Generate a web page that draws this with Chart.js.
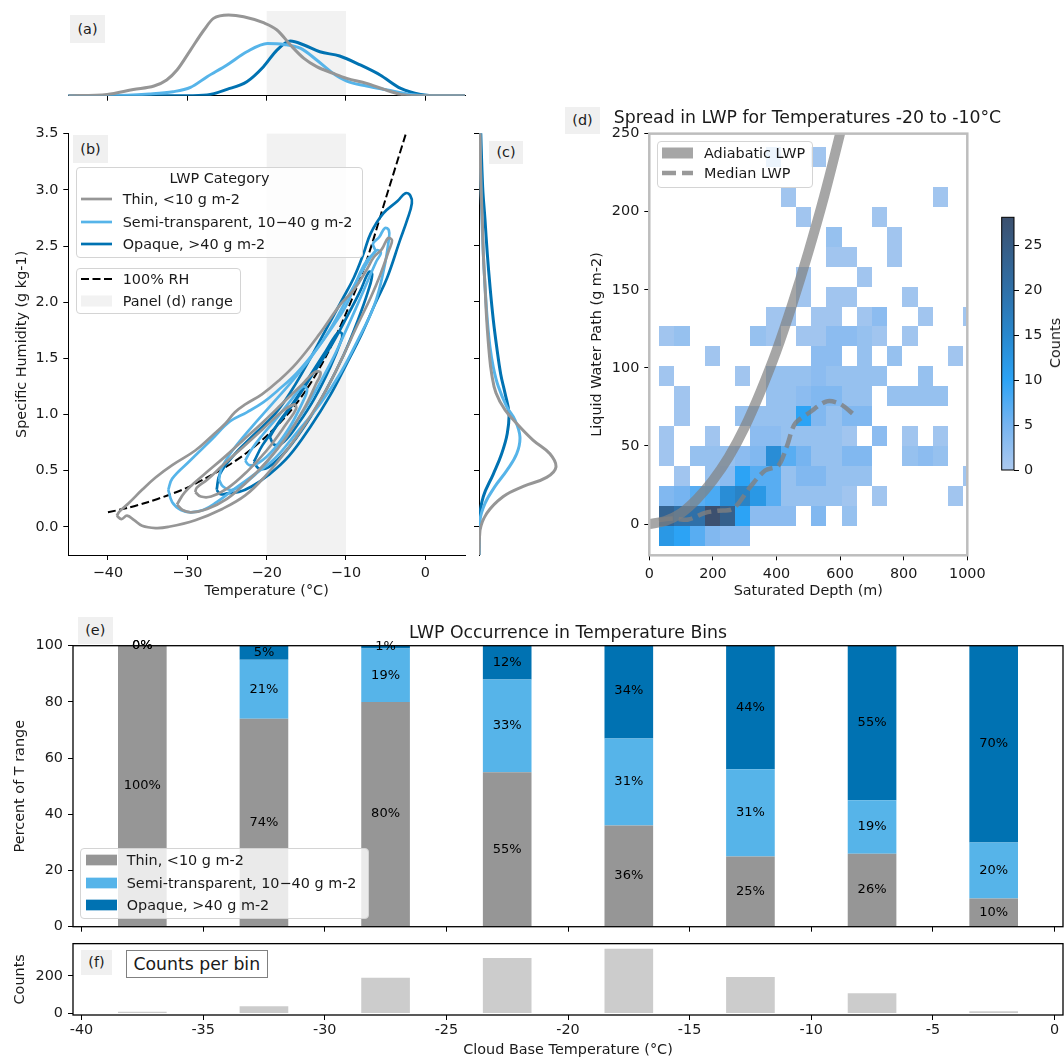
<!DOCTYPE html>
<html>
<head>
<meta charset="utf-8">
<title>LWP by cloud base temperature</title>
<script src="https://cdn.jsdelivr.net/npm/chart.js@4.4.1/dist/chart.umd.min.js"></script>
<style>
  body { margin: 0; background: #fff; font-family: "DejaVu Sans", sans-serif; color: #1a1a1a; }
  #page { position: relative; width: 1064px; height: 1059px; overflow: hidden; }
  canvas { position: absolute; }
  .tag { position: absolute; background: #f0f0f0; font-size: 14.4px; text-align: center; }
  .title { position: absolute; font-size: 17.3px; white-space: nowrap; transform: translate(-50%, -50%); }
  .caxis { position: absolute; font-size: 14.4px; white-space: nowrap; transform: translate(-50%, -50%) rotate(-90deg); }
  .boxed { position: absolute; box-sizing: border-box; border: 1px solid #808080; background: #fff;
           font-size: 17.3px; line-height: 26px; text-align: center; white-space: nowrap; }
  .legend { position: absolute; box-sizing: border-box; background: rgba(255,255,255,0.8);
            border: 1px solid #d4d4d4; border-radius: 4px; font-size: 14.4px; }
  .legend .row { position: absolute; left: 0; right: 0; height: 20px; line-height: 20px; white-space: nowrap; }
  .legend svg, .legend span { position: absolute; top: 0; }
</style>
</head>
<body>
<div id="page">
  <canvas id="tempKde" width="475" height="110" style="left:0;top:0"></canvas>
  <canvas id="contours" width="475" height="490" style="left:0;top:120px"></canvas>
  <canvas id="humKde" width="100" height="440" style="left:470px;top:120px"></canvas>
  <canvas id="lwpHist" width="440" height="490" style="left:560px;top:120px"></canvas>
  <canvas id="colorbar" width="74" height="290" style="left:990px;top:200px"></canvas>
  <canvas id="occurrence" width="1064" height="330" style="left:0;top:615px"></canvas>
  <canvas id="binCounts" width="1064" height="129" style="left:0;top:930px"></canvas>
  <div class="title" style="left:807.5px;top:116.7px">Spread in LWP for Temperatures -20 to -10°C</div>
  <div class="title" style="left:568px;top:631.5px">LWP Occurrence in Temperature Bins</div>
  <div class="caxis" style="left:1055px;top:343px">Counts</div>
  <div class="boxed" style="left:125.5px;top:950px;width:142.5px;height:28.3px">Counts per bin</div>
</div>
<script>
const categories = ['Thin, <10 g m-2', 'Semi-transparent, 10\u221240 g m-2', 'Opaque, >40 g m-2'];
const colThin = '#969696', colSemi = '#56b4e9', colOpaque = '#0072b2';
const bandRange = [-20, -10];

// (a) temperature densities
const tempThin = [-45, -40.1, -36.8, -34.2, -32.6, -31.3, -29.6, -27.9, -26.7, -24.8, -22.9, -20.4, -18.7, -17.0, -15.3, -13.7, -11.6, -9.9, -7.4, -5.2, -3.1, -1.0, 5];
const densThin = [0, 0.0011, 0.0052, 0.0080, 0.0130, 0.0212, 0.0377, 0.0543, 0.0639, 0.0667, 0.0653, 0.0603, 0.0543, 0.0419, 0.0308, 0.0240, 0.0184, 0.0143, 0.0102, 0.0052, 0.0011, 0, 0];
const tempSemi = [-45, -39.8, -34.8, -31.8, -29.6, -27.5, -25.0, -22.5, -19.9, -17.8, -15.7, -13.7, -11.6, -9.9, -7.4, -4.8, -1.9, 1.1, 5];
const densSemi = [0, 0, 0.0014, 0.0033, 0.0069, 0.0157, 0.0254, 0.0363, 0.0432, 0.0424, 0.0391, 0.0295, 0.0184, 0.0121, 0.0080, 0.0047, 0.0011, 0, 0];
const tempOpaque = [-45, -30.1, -27.5, -25.0, -22.5, -20.4, -18.7, -17.0, -15.3, -13.3, -10.8, -8.2, -5.7, -3.1, -0.6, 1.9, 5];
const densOpaque = [0, 0, 0.0006, 0.0052, 0.0116, 0.0240, 0.0377, 0.0452, 0.0419, 0.0363, 0.0328, 0.0254, 0.0171, 0.0060, 0.0011, 0, 0];

// (c) specific humidity densities
const humThin = [-0.25, -0.03, 0.12, 0.27, 0.36, 0.44, 0.53, 0.65, 0.77, 0.92, 1.04, 1.19, 1.36, 1.54, 1.84, 2.14, 2.43, 2.73, 3.02, 3.32, 3.6];
const densHumThin = [0, 0.014, 0.109, 0.343, 0.625, 0.955, 1.086, 1.001, 0.766, 0.532, 0.367, 0.240, 0.179, 0.145, 0.109, 0.085, 0.061, 0.047, 0.028, 0.018, 0.012];
const humSemi = [-0.25, 0.06, 0.21, 0.36, 0.50, 0.65, 0.80, 0.95, 1.07, 1.25, 1.42, 1.60, 1.84, 2.14, 2.43, 2.73, 3.02, 3.6];
const densHumSemi = [0, 0.014, 0.085, 0.226, 0.391, 0.532, 0.578, 0.508, 0.391, 0.272, 0.202, 0.155, 0.117, 0.085, 0.061, 0.042, 0.028, 0.012];
const humOpaque = [-0.25, 0.06, 0.27, 0.47, 0.65, 0.83, 1.01, 1.19, 1.36, 1.60, 1.84, 2.14, 2.43, 2.73, 3.02, 3.6];
const densHumOpaque = [0, 0.004, 0.061, 0.202, 0.320, 0.399, 0.423, 0.367, 0.306, 0.250, 0.202, 0.155, 0.117, 0.085, 0.052, 0.020];

// (b) density contours, [temperature, humidity] around each loop
const thinOuter = [[-38.9,0.10],[-38.3,0.07],[-37.6,0.10],[-36.7,0.06],[-35.7,0.01],[-34.0,-0.01],[-32.4,0.00],[-29.0,0.06],[-25.6,0.16],[-22.7,0.28],[-20.2,0.45],[-17.5,0.68],[-15.0,0.93],[-12.5,1.22],[-10.5,1.50],[-8.6,1.79],[-6.9,2.04],[-5.7,2.24],[-4.6,2.46],[-4.2,2.55],[-4.7,2.57],[-5.5,2.47],[-6.5,2.40],[-7.3,2.30],[-9.0,2.11],[-10.7,1.98],[-13.3,1.72],[-16.2,1.46],[-18.5,1.30],[-20.6,1.18],[-22.7,1.09],[-24.0,1.02],[-25.2,0.92],[-26.9,0.81],[-29.0,0.68],[-31.9,0.55],[-34.0,0.44],[-35.7,0.33],[-37.4,0.21],[-38.5,0.14],[-38.9,0.10]];
const thinMid = [[-31.3,0.20],[-30.6,0.15],[-29.5,0.13],[-27.5,0.16],[-25.0,0.25],[-22.5,0.40],[-20.0,0.58],[-17.5,0.80],[-15.3,1.05],[-13.8,1.27],[-13.2,1.37],[-13.9,1.38],[-15.5,1.27],[-18.0,1.10],[-20.5,0.93],[-23.0,0.77],[-25.5,0.61],[-28.0,0.46],[-30.3,0.31],[-31.3,0.20]];
const thinInner = [[-29.0,0.31],[-28.3,0.27],[-27.0,0.27],[-25.0,0.34],[-22.5,0.49],[-20.0,0.68],[-17.5,0.92],[-16.3,1.05],[-16.5,1.09],[-18.0,1.03],[-20.5,0.87],[-23.0,0.71],[-25.5,0.55],[-27.5,0.42],[-28.8,0.35],[-29.0,0.31]];
const semiOuter = [[-32.4,0.33],[-31.9,0.22],[-30.8,0.15],[-29.6,0.13],[-28.0,0.15],[-26.3,0.22],[-24.6,0.31],[-22.1,0.44],[-19.1,0.60],[-16.2,0.84],[-13.2,1.10],[-10.7,1.37],[-8.6,1.65],[-6.4,1.98],[-5.2,2.30],[-4.6,2.56],[-4.6,2.64],[-5.1,2.66],[-5.8,2.58],[-6.6,2.52],[-6.3,2.45],[-7.3,2.38],[-8.3,2.25],[-9.9,1.98],[-11.6,1.79],[-13.5,1.60],[-16.2,1.37],[-18.5,1.22],[-20.4,1.11],[-22.5,1.02],[-24.6,0.94],[-26.9,0.78],[-29.8,0.58],[-31.9,0.43],[-32.4,0.33]];
const semiMid = [[-26.0,0.42],[-25.5,0.36],[-24.3,0.33],[-22.0,0.43],[-19.5,0.62],[-17.0,0.86],[-14.5,1.13],[-12.0,1.45],[-9.8,1.78],[-7.8,2.10],[-6.2,2.36],[-5.6,2.44],[-6.2,2.46],[-7.5,2.33],[-9.5,2.08],[-12.0,1.76],[-14.5,1.50],[-17.0,1.28],[-19.5,1.08],[-22.0,0.88],[-24.3,0.68],[-25.7,0.52],[-26.0,0.42]];
const semiInner = [[-22.7,0.59],[-22.2,0.55],[-21.0,0.57],[-19.0,0.70],[-17.0,0.90],[-15.4,1.12],[-14.9,1.22],[-15.4,1.25],[-16.8,1.14],[-18.6,0.98],[-20.5,0.82],[-22.0,0.68],[-22.7,0.59]];
const opaqueOuter = [[-26.3,0.33],[-25.8,0.29],[-24.8,0.30],[-23.5,0.31],[-21.9,0.36],[-19.8,0.46],[-17.2,0.63],[-14.5,0.89],[-12.0,1.17],[-10.0,1.44],[-8.0,1.72],[-6.3,1.99],[-4.8,2.22],[-3.2,2.55],[-2.3,2.73],[-1.7,2.88],[-1.9,2.95],[-2.5,2.97],[-3.5,2.90],[-5.3,2.79],[-6.9,2.61],[-7.8,2.43],[-9.0,2.22],[-10.5,2.02],[-12.5,1.76],[-14.5,1.50],[-16.8,1.22],[-18.9,1.01],[-21.9,0.80],[-24.0,0.65],[-25.9,0.47],[-26.3,0.33]];
const opaqueMid = [[-21.6,0.58],[-21.0,0.52],[-19.8,0.53],[-17.5,0.68],[-15.0,0.92],[-12.5,1.22],[-10.3,1.53],[-8.5,1.84],[-7.2,2.10],[-6.7,2.25],[-7.1,2.27],[-8.2,2.10],[-9.8,1.88],[-11.8,1.62],[-14.0,1.38],[-16.3,1.13],[-18.5,0.92],[-20.5,0.73],[-21.6,0.58]];
const opaqueInner = [[-19.6,0.80],[-19.0,0.73],[-17.8,0.76],[-16.0,0.92],[-14.0,1.14],[-12.0,1.42],[-10.6,1.66],[-10.5,1.72],[-11.0,1.73],[-12.5,1.57],[-14.5,1.35],[-16.5,1.12],[-18.5,0.93],[-19.6,0.80]];

// saturation curve (100% RH)
const rhTemp = [-40, -37.5, -35, -32.5, -30, -27.5, -25, -22.5, -20, -17.5, -15, -12.5, -10, -7.5, -5, -2.45];
const rhHum = [0.13, 0.17, 0.22, 0.28, 0.35, 0.44, 0.54, 0.66, 0.81, 0.99, 1.22, 1.52, 1.90, 2.35, 2.92, 3.50];

// (d) 2D histogram of LWP vs saturated depth, rows from lowest LWP bin up
const depthEdges = [31, 79, 127, 174, 222, 270, 318, 366, 413, 461, 509, 557, 605, 652, 700, 748, 796, 844, 891, 939, 987, 1035];
const lwpEdges = [-13.9, -1.1, 11.6, 24.4, 37.2, 50.0, 62.7, 75.5, 88.3, 101.0, 113.8, 126.6, 139.3, 152.1, 164.9, 177.6, 190.4, 203.2, 215.9, 228.7, 241.5];
const lwpCounts = [
  [12,10, 7, 4, 3, 3, 0, 0, 0, 0, 0, 0, 0, 0, 0, 0, 0, 0, 0, 0, 0],
  [23,20,20,28,24,10, 3, 3, 3, 0, 4, 0, 2, 0, 0, 0, 0, 0, 0, 0, 0],
  [ 4, 5, 7, 8,14,16,12, 7, 2, 2, 2, 2, 1, 0, 1, 0, 0, 0, 0, 1, 0],
  [ 0, 1, 0, 2, 3,10, 7, 7, 2, 4, 4, 2, 2, 2, 0, 0, 0, 0, 0, 0, 1],
  [ 1, 0, 2, 2, 2, 3, 4,14, 7, 5, 2, 2, 4, 4, 0, 0, 2, 3, 2, 0, 0],
  [ 1, 0, 0, 1, 0, 0, 3, 3, 2, 2, 2, 2, 1, 0, 3, 0, 1, 0, 1, 0, 0],
  [ 0, 1, 0, 0, 0, 2, 2, 2, 2,10, 4, 2, 4, 4, 0, 0, 0, 0, 0, 0, 0],
  [ 0, 1, 0, 0, 0, 0, 0, 2, 2, 3, 4, 4, 2, 2, 0, 2, 2, 2, 2, 0, 0],
  [ 1, 0, 0, 0, 0, 1, 0, 2, 2, 2, 3, 2, 2, 2, 2, 0, 0, 2, 0, 0, 0],
  [ 0, 0, 0, 1, 0, 0, 0, 0, 0, 0, 3, 3, 0, 2, 0, 2, 0, 0, 0, 1, 0],
  [ 1, 2, 0, 0, 0, 0, 2, 1, 0, 1, 1, 3, 3, 2, 1, 0, 1, 0, 0, 0, 0],
  [ 0, 0, 0, 0, 0, 0, 0, 1, 1, 0, 1, 1, 0, 1, 3, 0, 0, 1, 0, 0, 1],
  [ 0, 0, 0, 0, 0, 0, 0, 0, 0, 1, 0, 1, 1, 0, 0, 0, 1, 0, 0, 0, 0],
  [ 0, 0, 0, 0, 0, 0, 0, 0, 0, 1, 0, 0, 0, 1, 0, 0, 0, 0, 0, 0, 0],
  [ 0, 0, 0, 0, 0, 0, 0, 0, 0, 0, 0, 1, 1, 0, 0, 1, 0, 0, 0, 0, 0],
  [ 0, 0, 0, 0, 0, 0, 0, 0, 0, 0, 0, 2, 0, 0, 0, 1, 0, 0, 0, 0, 0],
  [ 0, 0, 0, 0, 0, 0, 0, 0, 0, 1, 0, 0, 0, 0, 1, 0, 0, 0, 0, 0, 0],
  [ 0, 0, 0, 0, 0, 0, 0, 0, 1, 0, 0, 0, 0, 0, 0, 0, 0, 0, 1, 0, 0],
  [ 0, 0, 0, 0, 0, 0, 0, 0, 0, 0, 0, 0, 0, 0, 0, 0, 0, 0, 0, 0, 0],
  [ 0, 0, 0, 0, 0, 0, 0, 1, 0, 0, 1, 0, 0, 0, 0, 0, 0, 0, 0, 0, 0]
];
const countMax = 28.1;
const adiabDepth = [0, 50, 100, 150, 200, 250, 300, 350, 400, 450, 500, 550, 600, 630];
const adiabLwp = [0, 2, 7, 16, 28, 43, 62, 85, 111, 141, 174, 210, 250, 276];
const medDepth = [30, 75, 123, 175, 215, 264, 317, 364, 406, 432, 458, 505, 558, 600, 647];
const medLwp = [2.5, 3.5, 2.9, 7.2, 8.5, 9.9, 23.7, 34.3, 37.5, 49.5, 64.2, 71.6, 78.6, 76.9, 69.4];

// (e, f) temperature bins
const binCentres = [-37.5, -32.5, -27.5, -22.5, -17.5, -12.5, -7.5, -2.5];
const pctThin = [100, 74, 80, 55, 36, 25, 26, 10];
const pctSemi = [0, 21, 19, 33, 31, 31, 19, 20];
const pctOpaque = [0, 5, 1, 12, 34, 44, 55, 70];
const binCounts = [9, 38, 190, 295, 345, 195, 108, 12];

// colour ramp for the histogram and colorbar
const cmapStops = [
  [0, [172, 201, 239]], [5, [118, 180, 240]], [10, [44, 163, 245]],
  [15, [40, 136, 206]], [20, [47, 112, 168]], [28.1, [60, 80, 110]]
];
function countColor(n) {
  for (let i = 1; i < cmapStops.length; i++) {
    const [v0, c0] = cmapStops[i - 1], [v1, c1] = cmapStops[i];
    if (n <= v1 || i === cmapStops.length - 1) {
      const t = Math.max(0, Math.min(1, (n - v0) / (v1 - v0)));
      return 'rgb(' + c0.map((c, k) => Math.round(c + (c1[k] - c) * t)).join(',') + ')';
    }
  }
}

Chart.defaults.font.family = '"DejaVu Sans", sans-serif';
Chart.defaults.font.size = 14.4;
Chart.defaults.color = '#1a1a1a';
Chart.defaults.animation = false;
Chart.defaults.responsive = false;
Chart.defaults.events = [];
Chart.defaults.plugins.legend.display = false;
Chart.defaults.plugins.tooltip.enabled = false;
Chart.defaults.elements.point.radius = 0;

const toXY = (xs, ys) => xs.map((x, i) => ({ x, y: ys[i] }));
const loopXY = loop => loop.map(([x, y]) => ({ x, y }));
const minusFmt = v => (v < 0 ? '\u2212' + Math.abs(v) : String(v));

function axis(min, max, ticks, size, o = {}) {
  const a = {
    type: 'linear', min, max, offset: false,
    afterBuildTicks: s => { s.ticks = ticks.map(value => ({ value })); },
    afterFit: s => { if (o.horizontal) s.height = size; else s.width = size; },
    grid: { drawOnChartArea: false, drawTicks: true, tickLength: 5, tickColor: '#000', lineWidth: 1, offset: false },
    border: { display: o.border !== false, color: '#000', width: 1 },
    ticks: { display: o.labels !== false, padding: o.pad ?? 5, maxRotation: 0, autoSkip: false, callback: o.fmt || (v => String(v)) },
    title: o.title ? { display: true, text: o.title, padding: o.titlePad } : { display: false }
  };
  if (o.position) a.position = o.position;
  if (o.stacked) a.stacked = true;
  return a;
}

const bandPlugin = {
  id: 'band',
  beforeDraw(chart) {
    const { ctx, chartArea: a, scales: { x } } = chart;
    const x0 = x.getPixelForValue(bandRange[0]), x1 = x.getPixelForValue(bandRange[1]);
    ctx.save();
    ctx.fillStyle = '#f2f2f2';
    ctx.fillRect(x0, a.top, x1 - x0, a.bottom - a.top);
    ctx.restore();
  }
};

const framePlugin = {
  id: 'frame',
  afterDatasetsDraw(chart, args, opts) {
    const { ctx, chartArea: a } = chart;
    ctx.save();
    ctx.strokeStyle = opts.color;
    ctx.lineWidth = opts.width;
    ctx.strokeRect(a.left, a.top, a.right - a.left, a.bottom - a.top);
    ctx.restore();
  }
};

const cellsPlugin = {
  id: 'cells',
  beforeDatasetsDraw(chart) {
    const { ctx, chartArea: a, scales: { x, y } } = chart;
    ctx.save();
    ctx.beginPath();
    ctx.rect(a.left, a.top, a.right - a.left, a.bottom - a.top);
    ctx.clip();
    lwpCounts.forEach((row, r) => row.forEach((n, c) => {
      if (!n) return;
      const x0 = Math.round(x.getPixelForValue(depthEdges[c]));
      const x1 = Math.round(x.getPixelForValue(depthEdges[c + 1]));
      const y0 = Math.round(y.getPixelForValue(lwpEdges[r + 1]));
      const y1 = Math.round(y.getPixelForValue(lwpEdges[r]));
      ctx.fillStyle = countColor(n);
      ctx.fillRect(x0, y0, x1 - x0, y1 - y0);
    }));
    ctx.restore();
  }
};

const rampPlugin = {
  id: 'ramp',
  beforeDatasetsDraw(chart) {
    const { ctx, chartArea: a, scales: { y } } = chart;
    const g = ctx.createLinearGradient(0, y.getPixelForValue(0), 0, y.getPixelForValue(countMax));
    cmapStops.forEach(([v]) => g.addColorStop(v / countMax, countColor(v)));
    ctx.save();
    ctx.fillStyle = g;
    ctx.fillRect(a.left, a.top, a.right - a.left, a.bottom - a.top);
    ctx.strokeStyle = '#000';
    ctx.lineWidth = 1;
    ctx.strokeRect(a.left, a.top, a.right - a.left, a.bottom - a.top);
    ctx.restore();
  }
};

const barLabelPlugin = {
  id: 'barLabels',
  afterDatasetsDraw(chart) {
    const ctx = chart.ctx;
    ctx.save();
    ctx.font = '13px "DejaVu Sans", sans-serif';
    ctx.fillStyle = '#000';
    ctx.textAlign = 'center';
    ctx.textBaseline = 'middle';
    chart.data.datasets.forEach((ds, i) => {
      chart.getDatasetMeta(i).data.forEach((bar, j) => {
        ctx.fillText(ds.data[j].y + '%', bar.x, (bar.y + bar.base) / 2);
      });
    });
    ctx.restore();
  }
};

const kdeLine = (data, color, mode) => ({
  data, showLine: true, borderColor: color, borderWidth: 3,
  cubicInterpolationMode: mode || 'default', tension: 0.4
});
const contour = (loop, color) => ({
  data: loopXY(loop), showLine: true, borderColor: color, borderWidth: 2.7, tension: 0.4
});

// (a) temperature distribution per category
new Chart(document.getElementById('tempKde'), {
  type: 'scatter',
  data: { datasets: [
    kdeLine(toXY(tempThin, densThin), colThin, 'monotone'),
    kdeLine(toXY(tempSemi, densSemi), colSemi, 'monotone'),
    kdeLine(toXY(tempOpaque, densOpaque), colOpaque, 'monotone')
  ] },
  options: {
    layout: { padding: { left: 68.3, right: 10, top: 11, bottom: 0 } },
    scales: {
      x: axis(-45, 5, [-40, -30, -20, -10, 0], 14.3, { horizontal: true, labels: false }),
      y: { display: false, min: 0, max: 0.07 }
    }
  },
  plugins: [bandPlugin]
});

// (b) humidity vs temperature contours
new Chart(document.getElementById('contours'), {
  type: 'scatter',
  data: { datasets: [
    contour(thinOuter, colThin), contour(thinMid, colThin), contour(thinInner, colThin),
    contour(semiOuter, colSemi), contour(semiMid, colSemi), contour(semiInner, colSemi),
    contour(opaqueOuter, colOpaque), contour(opaqueMid, colOpaque), contour(opaqueInner, colOpaque),
    { data: toXY(rhTemp, rhHum), showLine: true, borderColor: '#000', borderWidth: 2, borderDash: [8, 3.5], tension: 0.3 }
  ] },
  options: {
    layout: { padding: { left: 0, right: 10, top: 13.3, bottom: 0 } },
    scales: {
      x: axis(-45, 5, [-40, -30, -20, -10, 0], 55, { horizontal: true, fmt: minusFmt,
        title: 'Temperature (°C)', titlePad: { top: 0, bottom: 10.4 } }),
      y: axis(-0.25, 3.5, [0, 0.5, 1, 1.5, 2, 2.5, 3, 3.5], 68.3, { fmt: v => v.toFixed(1),
        title: 'Specific Humidity (g kg-1)', titlePad: { top: 13.4, bottom: 0 } })
    }
  },
  plugins: [bandPlugin]
});

// (c) humidity distribution per category
new Chart(document.getElementById('humKde'), {
  type: 'scatter',
  data: { datasets: [
    kdeLine(toXY(densHumThin, humThin), colThin),
    kdeLine(toXY(densHumSemi, humSemi), colSemi),
    kdeLine(toXY(densHumOpaque, humOpaque), colOpaque)
  ] },
  options: {
    layout: { padding: { left: 0, right: 6, top: 13.3, bottom: 5 } },
    scales: {
      x: { display: false, min: 0, max: 1.2 },
      y: axis(-0.25, 3.5, [0, 0.5, 1, 1.5, 2, 2.5, 3, 3.5], 9, { labels: false })
    }
  }
});

// (d) LWP spread for -20 to -10 C
new Chart(document.getElementById('lwpHist'), {
  type: 'scatter',
  data: { datasets: [
    { data: toXY(adiabDepth, adiabLwp), showLine: true, borderColor: 'rgba(128,128,128,0.7)', borderWidth: 10, tension: 0.3 },
    { data: toXY(medDepth, medLwp), showLine: true, borderColor: 'rgba(128,128,128,0.8)', borderWidth: 4.5, borderDash: [14, 6], tension: 0.3 }
  ] },
  options: {
    layout: { padding: { left: 0, right: 32.7, top: 13.3, bottom: 0 } },
    scales: {
      x: axis(0, 1000, [0, 200, 400, 600, 800, 1000], 54.7, { horizontal: true, border: false,
        title: 'Saturated Depth (m)', titlePad: { top: 0, bottom: 10.4 } }),
      y: axis(-20, 250, [0, 50, 100, 150, 200, 250], 89.3, { border: false,
        title: 'Liquid Water Path (g m-2)', titlePad: { top: 28.4, bottom: 0 } })
    },
    plugins: { frame: { color: '#bdbdbd', width: 2.5 } }
  },
  plugins: [cellsPlugin, framePlugin]
});

// colorbar for (d)
new Chart(document.getElementById('colorbar'), {
  type: 'scatter',
  data: { datasets: [] },
  options: {
    layout: { padding: { left: 11.7, right: 0, top: 17.3, bottom: 20 } },
    scales: {
      x: { display: false, min: 0, max: 1 },
      y: axis(0, countMax, [0, 5, 10, 15, 20, 25], 50, { position: 'right', border: false })
    }
  },
  plugins: [rampPlugin]
});

// (e) occurrence of each category per temperature bin
new Chart(document.getElementById('occurrence'), {
  type: 'bar',
  data: { datasets: [
    { label: categories[0], data: toXY(binCentres, pctThin), backgroundColor: colThin },
    { label: categories[1], data: toXY(binCentres, pctSemi), backgroundColor: colSemi },
    { label: categories[2], data: toXY(binCentres, pctOpaque), backgroundColor: colOpaque }
  ] },
  options: {
    layout: { padding: { left: 0, right: 1, top: 30.7, bottom: 0 } },
    datasets: { bar: { barPercentage: 0.4, categoryPercentage: 1 } },
    scales: {
      x: axis(-40.35, 0.35, [-40, -35, -30, -25, -20, -15, -10, -5, 0], 18.3, { horizontal: true, labels: false, border: false, stacked: true }),
      y: axis(0, 100, [0, 20, 40, 60, 80, 100], 73, { border: false, stacked: true,
        title: 'Percent of T range', titlePad: { top: 11.5, bottom: 0 } })
    },
    plugins: { frame: { color: '#000', width: 1.3 } }
  },
  plugins: [framePlugin, barLabelPlugin]
});

// (f) number of profiles per bin
new Chart(document.getElementById('binCounts'), {
  type: 'bar',
  data: { datasets: [ { data: toXY(binCentres, binCounts), backgroundColor: '#cccccc' } ] },
  options: {
    layout: { padding: { left: 0, right: 1, top: 13.3, bottom: 0 } },
    datasets: { bar: { barPercentage: 0.4, categoryPercentage: 1 } },
    scales: {
      x: axis(-40.35, 0.35, [-40, -35, -30, -25, -20, -15, -10, -5, 0], 44, { horizontal: true, border: false, pad: 2,
        title: 'Cloud Base Temperature (°C)', titlePad: { top: 0, bottom: 0.4 } }),
      y: axis(-8, 372, [0, 200], 73, { border: false,
        title: 'Counts', titlePad: { top: 11.4, bottom: 0 } })
    },
    plugins: { frame: { color: '#000', width: 1.3 } }
  },
  plugins: [framePlugin]
});

// panel tags
const page = document.getElementById('page');
[['(a)', 70, 15, 35, 28], ['(b)', 73, 135, 35, 28], ['(c)', 489, 141, 34, 23],
 ['(d)', 565, 107, 35, 27], ['(e)', 77.5, 617, 35.5, 27], ['(f)', 81, 950, 31, 25]].forEach(([t, l, tp, w, h]) => {
  const d = document.createElement('div');
  d.className = 'tag';
  d.textContent = t;
  Object.assign(d.style, { left: l + 'px', top: tp + 'px', width: w + 'px', height: h + 'px', lineHeight: h + 'px' });
  page.appendChild(d);
});

// legends
function sampleSvg(it, x) {
  const ns = 'http://www.w3.org/2000/svg';
  const svg = document.createElementNS(ns, 'svg');
  svg.setAttribute('width', 31); svg.setAttribute('height', 20);
  svg.style.left = x + 'px';
  let el;
  if (it.kind === 'patch') {
    el = document.createElementNS(ns, 'rect');
    el.setAttribute('x', 0); el.setAttribute('y', 10 - it.h / 2);
    el.setAttribute('width', 31); el.setAttribute('height', it.h);
    el.setAttribute('fill', it.color);
  } else {
    el = document.createElementNS(ns, 'line');
    el.setAttribute('x1', 0); el.setAttribute('x2', 31);
    el.setAttribute('y1', 10); el.setAttribute('y2', 10);
    el.setAttribute('stroke', it.color);
    el.setAttribute('stroke-width', it.w);
    if (it.dash) el.setAttribute('stroke-dasharray', it.dash);
  }
  svg.appendChild(el);
  return svg;
}
function legend(spec) {
  const box = document.createElement('div');
  box.className = 'legend';
  Object.assign(box.style, { left: spec.left + 'px', top: spec.top + 'px', width: spec.width + 'px', height: spec.height + 'px' });
  if (spec.title) {
    const t = document.createElement('div');
    t.className = 'row';
    t.style.top = (spec.titleY - 10) + 'px';
    t.style.textAlign = 'center';
    t.textContent = spec.title;
    box.appendChild(t);
  }
  spec.items.forEach(it => {
    const row = document.createElement('div');
    row.className = 'row';
    row.style.top = (it.y - 10) + 'px';
    row.appendChild(sampleSvg(it, spec.sampleX));
    const s = document.createElement('span');
    s.style.left = spec.textX + 'px';
    s.textContent = it.label;
    row.appendChild(s);
    box.appendChild(row);
  });
  page.appendChild(box);
}

legend({ left: 76, top: 166.7, width: 287, height: 91.6, title: 'LWP Category', titleY: 10.6, sampleX: 4, textX: 45.7,
  items: [
    { label: categories[0], kind: 'line', color: colThin, w: 2.7, y: 31.5 },
    { label: categories[1], kind: 'line', color: colSemi, w: 2.7, y: 54 },
    { label: categories[2], kind: 'line', color: colOpaque, w: 2.7, y: 76.6 }
  ] });
legend({ left: 76, top: 267.7, width: 164.7, height: 46.6, sampleX: 4, textX: 45.7,
  items: [
    { label: '100% RH', kind: 'line', color: '#000', w: 2, dash: '8,3.5', y: 10.8 },
    { label: 'Panel (d) range', kind: 'patch', color: '#f2f2f2', h: 11, y: 32.5 }
  ] });
legend({ left: 657.3, top: 140.7, width: 156, height: 47.6, sampleX: 4, textX: 45.7,
  items: [
    { label: 'Adiabatic LWP', kind: 'line', color: 'rgba(128,128,128,0.7)', w: 11, y: 11 },
    { label: 'Median LWP', kind: 'line', color: 'rgba(128,128,128,0.8)', w: 4.5, dash: '14,6', y: 31.6 }
  ] });
legend({ left: 80, top: 848.3, width: 288.5, height: 70.7, sampleX: 5, textX: 45.7,
  items: [
    { label: categories[0], kind: 'patch', color: colThin, h: 10.7, y: 11.2 },
    { label: categories[1], kind: 'patch', color: colSemi, h: 10.7, y: 33.4 },
    { label: categories[2], kind: 'patch', color: colOpaque, h: 10.7, y: 55.7 }
  ] });
</script>
</body>
</html>
